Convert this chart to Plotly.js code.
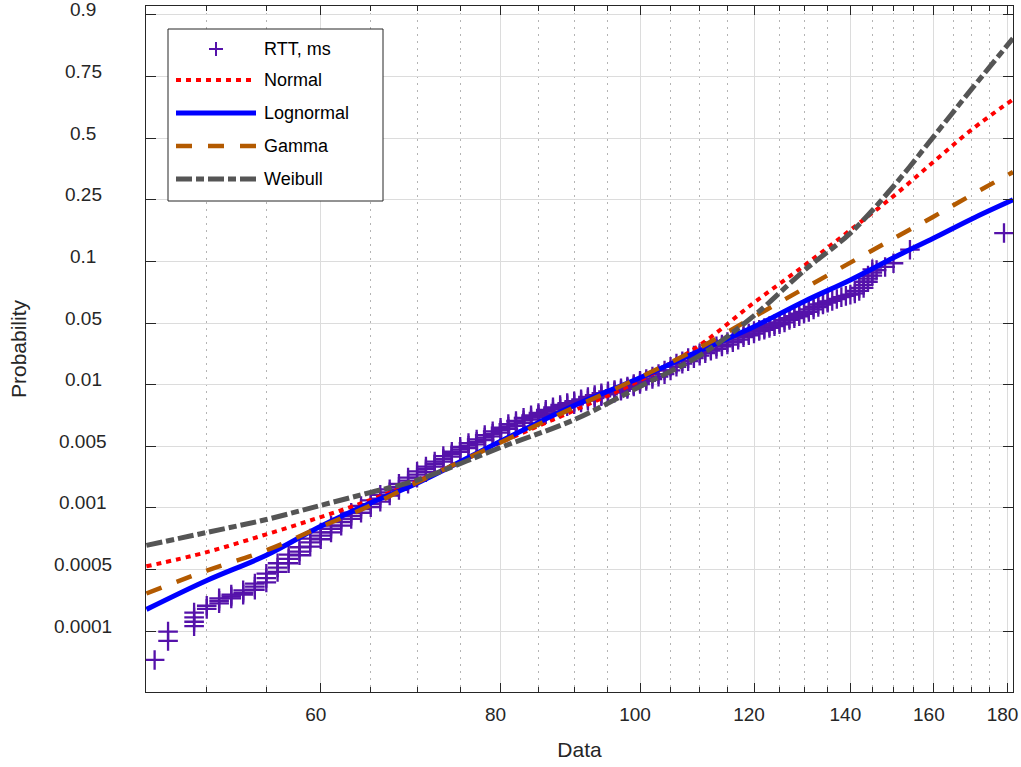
<!DOCTYPE html>
<html><head><meta charset="utf-8">
<script src="https://cdn.plot.ly/plotly-3.0.1.min.js"></script>
<style>html,body{margin:0;padding:0;background:#fff;} #chart{width:1021px;height:767px;}</style>
</head><body><div id="chart"></div>
<script>
// ---- data (y values are positions on the probability scale, 0 = "0.0001" tick ... 10 = "0.9" tick)
const fitX       = [45.4, 50, 55, 60, 65, 70, 80, 90, 100, 110, 120, 130, 140, 150, 160, 170, 181.6];
const normalY    = [1.05, 1.28, 1.57, 1.85, 2.13, 2.43, 3.06, 3.58, 4.07, 4.64, 5.33, 5.93, 6.51, 7.06, 7.62, 8.14, 8.63];
const lognormalY = [0.35, 0.82, 1.23, 1.70, 2.08, 2.40, 3.08, 3.66, 4.11, 4.55, 4.94, 5.35, 5.70, 6.06, 6.38, 6.69, 7.00];
const gammaY     = [0.61, 0.98, 1.31, 1.69, 2.04, 2.41, 3.06, 3.63, 4.12, 4.60, 5.10, 5.56, 5.98, 6.37, 6.73, 7.08, 7.45];
const weibullY   = [1.39, 1.60, 1.81, 2.04, 2.25, 2.45, 2.98, 3.43, 3.97, 4.47, 5.12, 5.85, 6.46, 7.22, 8.03, 8.80, 9.62];

const rttMs = [46,47,49,50,51,52,53,54,55,56,57,58,59,60,61,62,63,64,65,66,67,68,69,70,
  71,72,73,74,75,76,77,78,79,80,81,82,83,84,85,86,87,88,89,90,91,92,93,94,95,96,97,98,99,100,
  101,102,103,104,105,106,107,108,109,110,111,112,113,114,115,116,117,118,119,120,
  121,122,123,124,125,126,127,128,129,130,131,132,133,134,135,136,137,138,139,140,
  141,142,143,144,145,146,148,150,154,179];
const rttPos = [
  [-0.47],[-0.16,-0.01],[0.08,0.15,0.22,0.30],[0.36,0.41],
  [0.45,0.49,0.53],[0.53,0.56,0.59],[0.59,0.62,0.66],[0.67,0.72,0.77],[0.79,0.86,0.93],
  [0.96,1.03,1.10],[1.10,1.17,1.24],[1.23,1.29,1.36],[1.37,1.44,1.50],[1.49,1.55,1.60],
  [1.60,1.66,1.71],[1.71,1.77,1.82],[1.82,1.87,1.92],[1.92,1.98,2.03],[2.01,2.06,2.12],
  [2.10,2.15,2.21],[2.20,2.25,2.30],[2.29,2.34,2.39],[2.39,2.44,2.49],[2.49,2.54,2.59],
  [2.58,2.63,2.67],[2.67,2.71,2.75],[2.75,2.79,2.84],[2.83,2.87,2.91],[2.91,2.95,2.99],
  [2.97,3.01,3.05],[3.03,3.07,3.11],[3.10,3.14,3.18],[3.16,3.20,3.24],[3.22,3.26,3.30],
  [3.28,3.32,3.36],[3.33,3.37,3.41],[3.38,3.42,3.46],[3.43,3.47,3.50],[3.47,3.51,3.54],
  [3.52,3.56,3.59],[3.56,3.60,3.63],[3.61,3.64,3.67],[3.65,3.68,3.70],[3.68,3.71,3.73],
  [3.71,3.74,3.76],[3.74,3.77,3.80],[3.78,3.80,3.83],[3.81,3.83,3.86],[3.84,3.86,3.89],
  [3.87,3.89,3.91],[3.90,3.92,3.94],[3.93,3.95,3.97],[3.97,3.99,4.01],[4.01,4.04,4.06],
  [4.06,4.09],[4.09,4.13],[4.13,4.17],[4.17,4.23],[4.23,4.29],[4.29,4.34],[4.34,4.38],
  [4.38,4.43],[4.43,4.47],[4.47,4.51],[4.51,4.55],[4.55,4.58],[4.58,4.62],[4.62,4.65],
  [4.65,4.69],[4.69,4.73],[4.73,4.77],[4.77,4.80],[4.80,4.83],[4.83,4.87],
  [4.87,4.89],[4.89,4.92],[4.92,4.95],[4.95,4.98],[4.98,5.01],[5.01,5.05],[5.05,5.08],
  [5.08,5.11],[5.11,5.15],[5.15,5.18],[5.18,5.22],[5.22,5.26],[5.26,5.30],[5.30,5.32],
  [5.33,5.35],[5.36],[5.39],[5.42],[5.44],[5.46],
  [5.48,5.52],[5.52,5.57],[5.57,5.62,5.67],[5.67,5.72,5.77],[5.77,5.82,5.87],
  [5.86],[5.91],[5.97],[6.19],[6.46]
];

const probTicks = ['0.0001','0.0005','0.001','0.005','0.01','0.05','0.1','0.25','0.5','0.75','0.9'];
const xMajor = [60, 80, 100, 120, 140, 160, 180];
const xMinor = [50, 55, 65, 70, 75, 85, 90, 95, 105, 110, 115, 125, 130, 135, 145, 150, 155, 165, 170, 175];
const seriesNames = ['RTT, ms', 'Normal', 'Lognormal', 'Gamma', 'Weibull'];

// ---- styling
const FONT = 'Liberation Sans, Arial, Helvetica, sans-serif';
const TXT = '#262626';
const PURPLE = '#5512aa';
const styles = {
  Normal:    {color: '#ff0000', width: 4,   dash: '5px,5px'},
  Lognormal: {color: '#0000ff', width: 5,   dash: 'solid'},
  Gamma:     {color: '#b35a00', width: 4.5, dash: '16px,16px'},
  Weibull:   {color: '#555555', width: 5,   dash: '16px,4px,8px,4px'}
};

// plot area in pixels
const L = 146, R = 1013, T = 6, B = 692;
const W = 1021, H = 767;
const px = x => (x - L) / (R - L);
const py = y => (B - y) / (B - T);

const rx = [], ry = [];
rttMs.forEach((m, i) => rttPos[i].forEach(p => { rx.push(m); ry.push(p); }));

const fitLine = k => Object.assign({shape: 'spline', smoothing: 1}, styles[k]);

const traces = [
  {x: rx, y: ry, type: 'scatter', mode: 'markers', name: seriesNames[0],
   marker: {symbol: 'cross-thin', size: 14, color: PURPLE, line: {color: PURPLE, width: 2.3}}},
  {x: fitX, y: normalY, type: 'scatter', mode: 'lines', name: seriesNames[1], line: fitLine('Normal')},
  {x: fitX, y: lognormalY, type: 'scatter', mode: 'lines', name: seriesNames[2], line: fitLine('Lognormal')},
  {x: fitX, y: gammaY, type: 'scatter', mode: 'lines', name: seriesNames[3], line: fitLine('Gamma')},
  {x: fitX, y: weibullY, type: 'scatter', mode: 'lines', name: seriesNames[4], line: fitLine('Weibull')}
];

// custom legend
const legX0 = 168, legX1 = 383, legY0 = 29, legY1 = 201;
const itemY = [49, 80, 113, 146, 179];
const shapes = [
  {type: 'rect', xref: 'paper', yref: 'paper', x0: px(legX0), x1: px(legX1), y0: py(legY1), y1: py(legY0),
   fillcolor: '#ffffff', line: {color: TXT, width: 1}, layer: 'above'},
  {type: 'line', xref: 'paper', yref: 'paper', x0: px(209), x1: px(223), y0: py(itemY[0]), y1: py(itemY[0]),
   line: {color: PURPLE, width: 2}},
  {type: 'line', xref: 'paper', yref: 'paper', x0: px(216), x1: px(216), y0: py(itemY[0] + 7), y1: py(itemY[0] - 7),
   line: {color: PURPLE, width: 2}}
];
['Normal', 'Lognormal', 'Gamma', 'Weibull'].forEach((k, i) => {
  shapes.push({type: 'line', xref: 'paper', yref: 'paper', x0: px(176), x1: px(256),
    y0: py(itemY[i + 1]), y1: py(itemY[i + 1]), line: styles[k]});
});

const annotations = [];
seriesNames.forEach((n, i) => annotations.push({
  xref: 'paper', yref: 'paper', x: px(262), y: py(itemY[i]), text: n, showarrow: false,
  xanchor: 'left', yanchor: 'middle', font: {family: FONT, size: 18, color: '#000000'}
}));
probTicks.forEach((t, i) => annotations.push({
  xref: 'paper', yref: 'y', x: px(83), y: i, text: t, showarrow: false,
  xanchor: 'center', yanchor: 'middle', yshift: 5, font: {family: FONT, size: 19, color: TXT}
}));

const layout = {
  width: W, height: H,
  margin: {l: L, r: W - R, t: T, b: H - B, pad: 0},
  paper_bgcolor: '#ffffff', plot_bgcolor: '#ffffff',
  showlegend: false,
  font: {family: FONT, color: TXT},
  xaxis: {
    type: 'log', range: [Math.log10(45.37), Math.log10(181.6)],
    tickmode: 'array', tickvals: xMajor, ticktext: xMajor.map(String),
    tickfont: {family: FONT, size: 19, color: TXT}, ticklabelstandoff: 5, ticklabelshift: -5,
    ticks: 'inside', ticklen: 9, tickwidth: 1, tickcolor: TXT,
    showline: true, linecolor: TXT, linewidth: 1, mirror: 'ticks',
    showgrid: true, gridcolor: '#dcdcdc', gridwidth: 1, zeroline: false,
    minor: {tickvals: xMinor, ticks: 'inside', ticklen: 5, tickwidth: 1, tickcolor: TXT,
            showgrid: true, gridcolor: '#b4b4b4', griddash: '1.5px,5.5px', gridwidth: 1},
    title: {text: 'Data', font: {family: FONT, size: 21, color: TXT}, standoff: 18}
  },
  yaxis: {
    range: [-0.99, 10.146],
    tickmode: 'array', tickvals: probTicks.map((t, i) => i), showticklabels: false,
    ticks: 'inside', ticklen: 10, tickwidth: 1, tickcolor: TXT,
    showline: true, linecolor: TXT, linewidth: 1, mirror: 'ticks',
    showgrid: true, gridcolor: '#dcdcdc', gridwidth: 1, zeroline: false,
    title: {text: 'Probability', font: {family: FONT, size: 21, color: TXT}, standoff: 112}
  },
  shapes: shapes,
  annotations: annotations
};

Plotly.newPlot('chart', traces, layout, {displayModeBar: false, staticPlot: true});
</script>
</body></html>
